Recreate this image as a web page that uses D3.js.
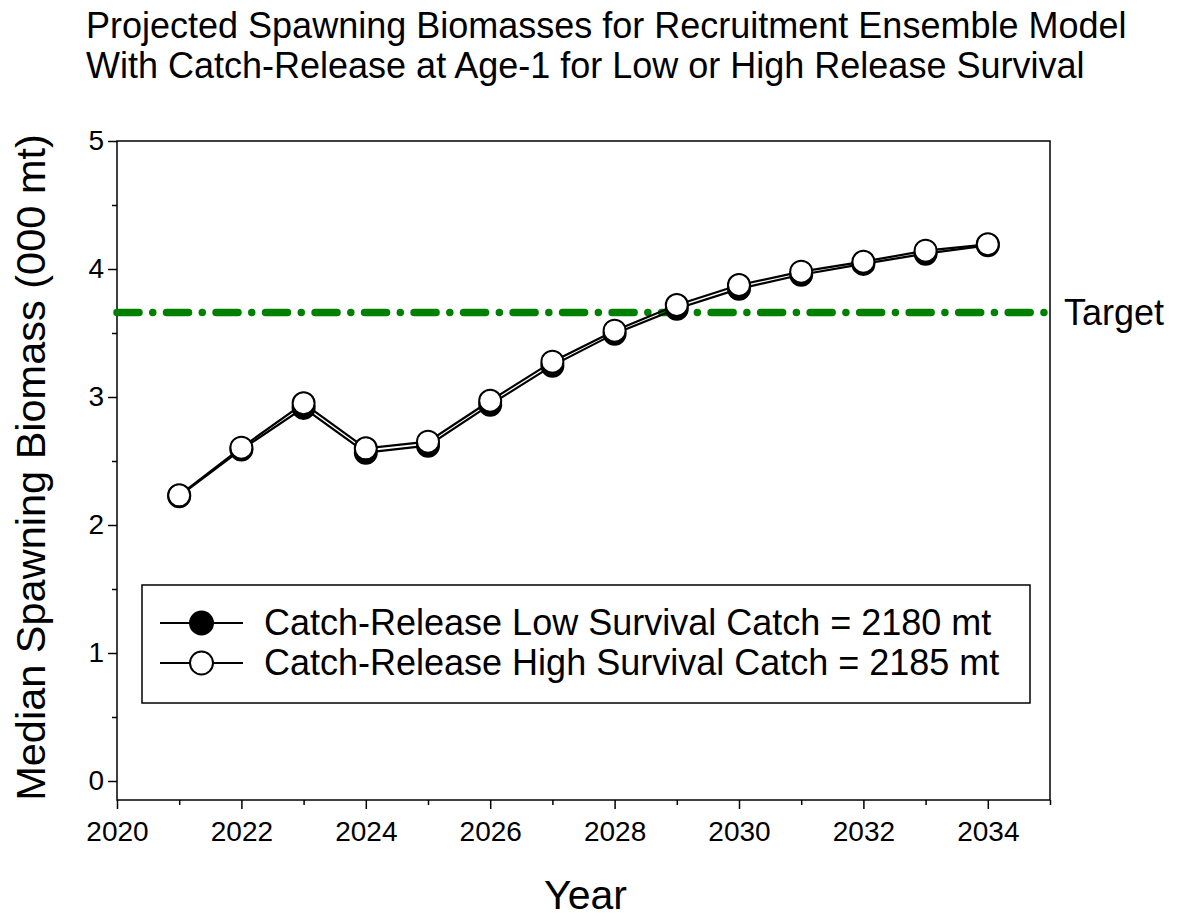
<!DOCTYPE html>
<html>
<head>
<meta charset="utf-8">
<script src="https://cdn.jsdelivr.net/npm/d3@7"></script>
<style>
  html, body { margin: 0; padding: 0; background: #fff; }
  svg { display: block; font-family: "Liberation Sans", Arial, sans-serif; }
</style>
</head>
<body>
<svg id="chart" width="1181" height="920"></svg>
<script>
// Projection years and median spawning biomass (thousand mt)
const years = [2021, 2022, 2023, 2024, 2025, 2026, 2027, 2028, 2029, 2030, 2031, 2032, 2033, 2034];
const lowSurvival  = [2.225, 2.59, 2.915, 2.565, 2.62, 2.94, 3.245, 3.495, 3.69, 3.845, 3.955, 4.04, 4.12, 4.185];
const highSurvival = [2.232, 2.604, 2.951, 2.599, 2.651, 2.971, 3.276, 3.518, 3.719, 3.875, 3.979, 4.057, 4.143, 4.193];
const targetValue = 3.66;

const xTickValues = [2020, 2022, 2024, 2026, 2028, 2030, 2032, 2034];
const xMinorTicks = [2021, 2023, 2025, 2027, 2029, 2031, 2033, 2035];
const yTickValues = [0, 1, 2, 3, 4, 5];
const yMinorTicks = [0.5, 1.5, 2.5, 3.5, 4.5];

const titleLines = [
  "Projected Spawning Biomasses for Recruitment Ensemble Model",
  "With Catch-Release at Age-1 for Low or High Release Survival"
];
const legendLabels = [
  "Catch-Release Low Survival Catch = 2180 mt",
  "Catch-Release High Survival Catch = 2185 mt"
];

const svg = d3.select("#chart");
const plot = { left: 117, right: 1050, top: 141, bottom: 800 };

const x = d3.scaleLinear().domain([2020, 2035]).range([plot.left, plot.right]);
const y = d3.scaleLinear().domain([0, 5]).range([781, 141]);

// Title
svg.append("g").selectAll("text").data(titleLines).join("text")
  .attr("x", 86).attr("y", (d, i) => 38 + i * 40)
  .attr("font-size", 36).attr("fill", "#000")
  .text(d => d);

// Axis frame (top and right borders)
svg.append("rect")
  .attr("x", plot.left).attr("y", plot.top)
  .attr("width", plot.right - plot.left).attr("height", plot.bottom - plot.top)
  .attr("fill", "none").attr("stroke", "#000").attr("stroke-width", 1.5);

// X axis
const xAxis = svg.append("g").attr("transform", `translate(0,${plot.bottom})`);
xAxis.call(d3.axisBottom(x).tickValues(xTickValues).tickFormat(d3.format("d")).tickSize(9).tickPadding(12));
xAxis.append("g").call(d3.axisBottom(x).tickValues(xMinorTicks).tickFormat("").tickSize(5));
xAxis.selectAll(".domain").remove();
xAxis.selectAll("line").attr("stroke", "#000").attr("stroke-width", 1.5);
xAxis.selectAll("text").attr("font-size", 28).attr("font-family", "Liberation Sans, Arial, sans-serif").attr("fill", "#000");

// Y axis
const yAxis = svg.append("g").attr("transform", `translate(${plot.left},0)`);
yAxis.call(d3.axisLeft(y).tickValues(yTickValues).tickFormat(d3.format("d")).tickSize(9).tickPadding(4));
yAxis.append("g").call(d3.axisLeft(y).tickValues(yMinorTicks).tickFormat("").tickSize(5));
yAxis.selectAll(".domain").remove();
yAxis.selectAll("line").attr("stroke", "#000").attr("stroke-width", 1.5);
yAxis.selectAll("text").attr("font-size", 28).attr("font-family", "Liberation Sans, Arial, sans-serif").attr("fill", "#000");

// Axis titles
svg.append("text")
  .attr("transform", `translate(45,${(plot.top + plot.bottom) / 2 - 3}) rotate(-90)`)
  .attr("text-anchor", "middle").attr("font-size", 41.5).attr("fill", "#000")
  .text("Median Spawning Biomass (000 mt)");
svg.append("text")
  .attr("x", (plot.left + plot.right) / 2 + 2).attr("y", 909)
  .attr("text-anchor", "middle").attr("font-size", 41).attr("fill", "#000")
  .text("Year");

// Target reference line
svg.append("line")
  .attr("x1", plot.left).attr("x2", plot.right)
  .attr("y1", y(targetValue)).attr("y2", y(targetValue))
  .attr("stroke", "#008000").attr("stroke-width", 7.5)
  .attr("stroke-linecap", "round")
  .attr("stroke-dasharray", "22,13.75,0.01,13.75");
svg.append("text")
  .attr("x", 1064).attr("y", y(targetValue) + 12)
  .attr("font-size", 36).attr("fill", "#000")
  .text("Target");

// Series
const series = [
  { values: lowSurvival, fill: "#000" },
  { values: highSurvival, fill: "#fff" }
];
const line = d3.line().x((d, i) => x(years[i])).y(d => y(d));

series.forEach(s => {
  svg.append("path").datum(s.values)
    .attr("d", line).attr("fill", "none")
    .attr("stroke", "#000").attr("stroke-width", 2.2);
});
series.forEach(s => {
  svg.append("g").selectAll("circle").data(s.values).join("circle")
    .attr("cx", (d, i) => x(years[i])).attr("cy", d => y(d))
    .attr("r", 11).attr("fill", s.fill)
    .attr("stroke", "#000").attr("stroke-width", 2);
});

// Legend
const legend = svg.append("g");
legend.append("rect")
  .attr("x", 142).attr("y", 585).attr("width", 888).attr("height", 118)
  .attr("fill", "#fff").attr("stroke", "#000").attr("stroke-width", 1.5);
series.forEach((s, i) => {
  const ly = 623 + i * 40;
  legend.append("line")
    .attr("x1", 160).attr("x2", 243).attr("y1", ly).attr("y2", ly)
    .attr("stroke", "#000").attr("stroke-width", 2);
  legend.append("circle")
    .attr("cx", 201.5).attr("cy", ly).attr("r", 11.5)
    .attr("fill", s.fill).attr("stroke", "#000").attr("stroke-width", 2);
  legend.append("text")
    .attr("x", 264).attr("y", ly + 12)
    .attr("font-size", 36).attr("fill", "#000")
    .text(legendLabels[i]);
});
</script>
</body>
</html>
